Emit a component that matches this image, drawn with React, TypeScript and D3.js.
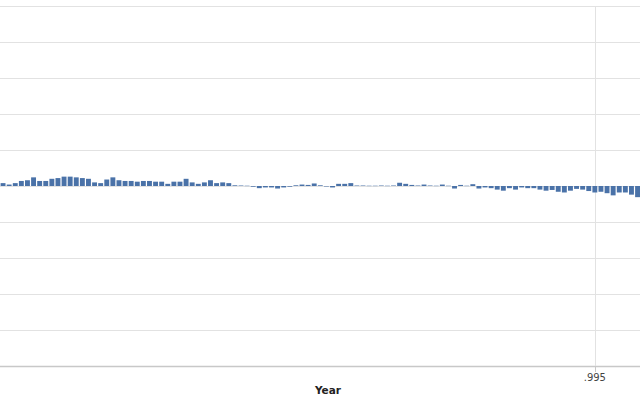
import React from "react";
import * as d3 from "d3";

const startYear = 1898;
const values: number[] = [
  0.04, 0.02, 0.04, 0.07, 0.08, 0.12, 0.07, 0.07, 0.10, 0.11,
  0.13, 0.13, 0.12, 0.11, 0.10, 0.05, 0.04, 0.09, 0.12, 0.08,
  0.07, 0.07, 0.06, 0.07, 0.07, 0.06, 0.06, 0.03, 0.06, 0.06,
  0.10, 0.05, 0.03, 0.05, 0.08, 0.04, 0.05, 0.04, 0.01, 0.007,
  0.004, -0.01, -0.03, -0.02, -0.02, -0.035, -0.02, -0.01, 0.01, 0.02,
  0.015, 0.035, 0.01, -0.007, -0.02, 0.03, 0.03, 0.04, 0.007, 0.007,
  0.004, 0.004, 0.007, 0.004, 0.007, 0.045, 0.03, 0.015, 0.007, 0.02,
  0.007, 0.004, 0.02, 0.004, -0.035, 0.015, 0.004, 0.025, -0.035, -0.02,
  -0.03, -0.05, -0.065, -0.03, -0.05, -0.02, -0.03, -0.03, -0.05, -0.065,
  -0.055, -0.08, -0.09, -0.065, -0.04, -0.05, -0.07, -0.09, -0.08, -0.10,
  -0.13, -0.09, -0.09, -0.12, -0.155,
];
const years: number[] = values.map((_, i) => startYear + i);
const gridValues: number[] = [-2.5, -2, -1.5, -1, -0.5, 0, 0.5, 1, 1.5, 2, 2.5];
const xTicks: number[] = [1995];
const xTickLabels: string[] = [".995"];

export default function App() {
  const W = 640, H = 400;
  const x = d3.scaleLinear().domain([1897.5, 2002.4]).range([0, W]);
  const y = d3.scaleLinear().domain([-2.5, 2.5]).range([366, 6]);
  const pitch = x(1) - x(0);
  const bw = pitch - 1.2;
  return (
    <svg width={W} height={H} style={{ position: "absolute", left: 0, top: 0, background: "#fff" }}
      fontFamily="'DejaVu Sans', sans-serif">
      {gridValues.map((g) => (
        <line key={g} x1={0} x2={W} y1={Math.round(y(g)) + 0.5} y2={Math.round(y(g)) + 0.5}
          stroke={g === -2.5 ? "#c8c8c8" : "#e2e2e2"} strokeWidth={g === -2.5 ? 1.5 : 1} />
      ))}
      {xTicks.map((t, i) => (
        <g key={t}>
          <line x1={Math.round(x(t)) + 0.5} x2={Math.round(x(t)) + 0.5} y1={y(2.5)} y2={y(-2.5)} stroke="#e2e2e2" />
          <line x1={Math.round(x(t)) + 0.5} x2={Math.round(x(t)) + 0.5} y1={y(-2.5)} y2={y(-2.5) + 6} stroke="#c8c8c8" />
          <text x={x(t)} y={381} fontSize={10} textAnchor="middle" fill="#444">{xTickLabels[i]}</text>
        </g>
      ))}
      {values.map((v, i) => {
        const yr = years[i];
        const y0 = y(0), y1 = y(v);
        return (
          <rect key={yr} x={x(yr) - bw / 2} y={Math.min(y0, y1)} width={bw}
            height={Math.max(Math.abs(y1 - y0), 0.4)} fill="#4a72a8" />
        );
      })}
      <text x={328} y={394} fontSize={10.5} fontWeight="bold" textAnchor="middle" fill="#222">Year</text>
    </svg>
  );
}
